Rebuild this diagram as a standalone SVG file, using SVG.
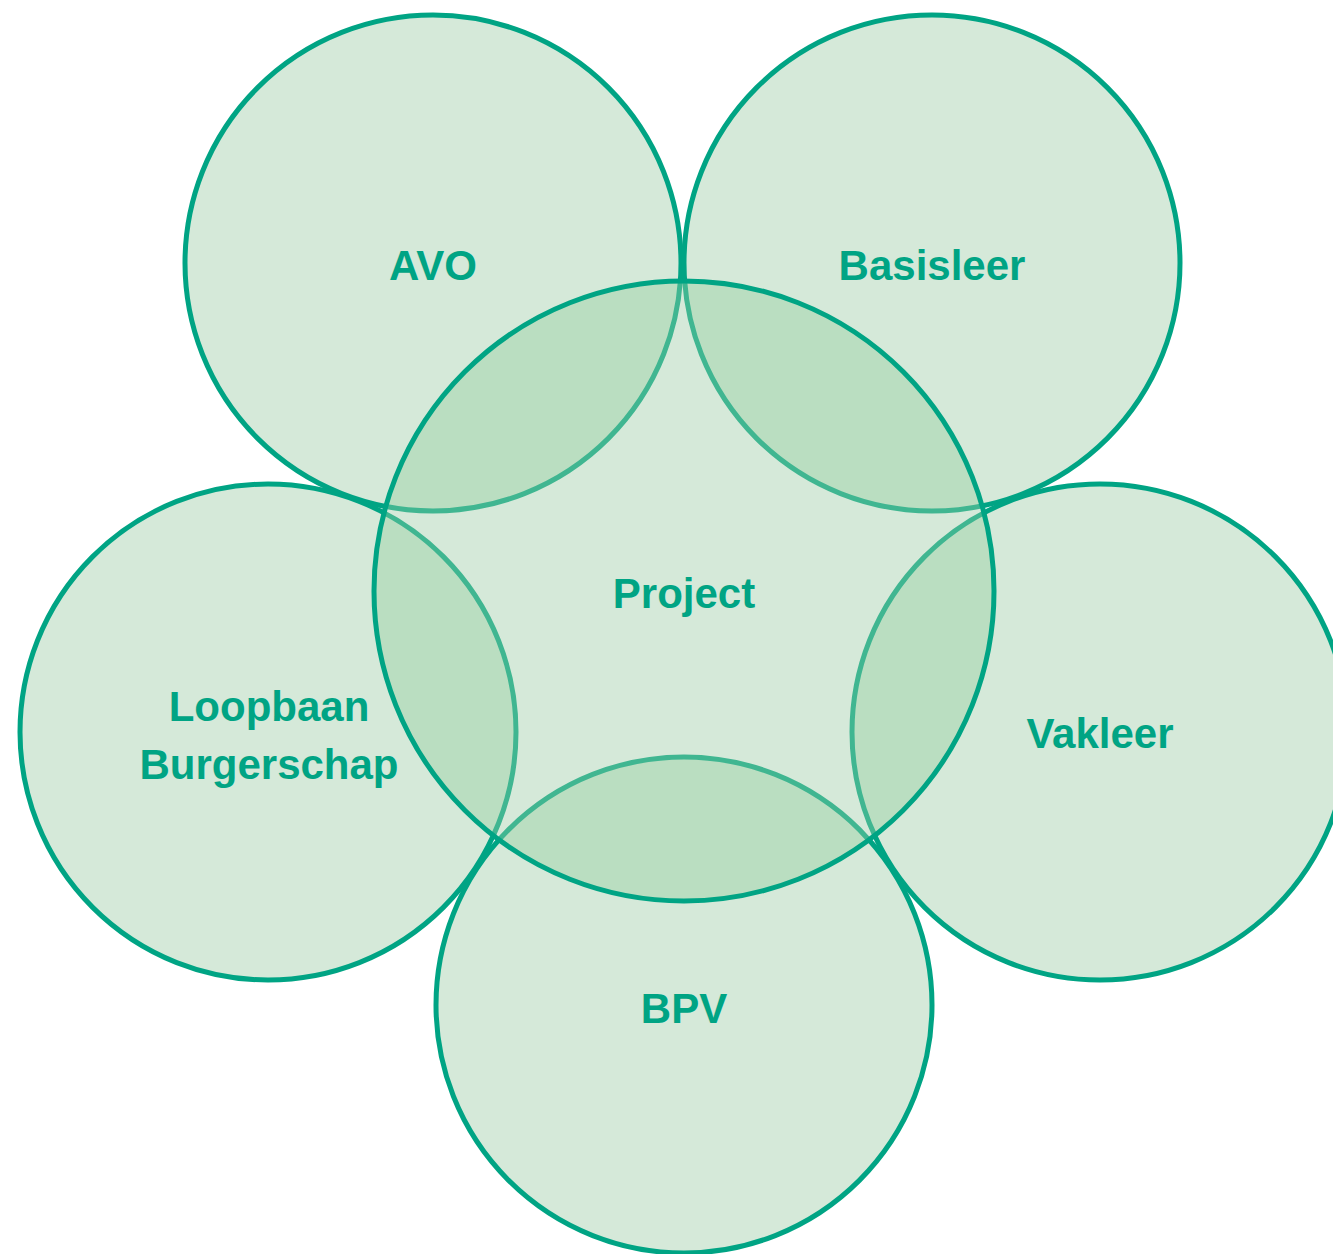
<svg xmlns="http://www.w3.org/2000/svg" width="1333" height="1254" viewBox="0 0 1333 1254">
<style>
.fill{fill:#d5e9d9;stroke:none}
.ring{fill:none;stroke:#00a484;stroke-width:5}
.lens{fill:#badec1;stroke:none}
.inner{fill:none;stroke:#40b691;stroke-width:5}
.lbl{font-family:"Liberation Sans",Arial,sans-serif;font-weight:bold;font-size:42px;fill:#00a484;text-anchor:middle}
</style>
<defs>
<circle id="cAVO" cx="433" cy="263" r="248"/>
<circle id="cBas" cx="932" cy="263" r="248"/>
<circle id="cLoo" cx="268" cy="732" r="248"/>
<circle id="cVak" cx="1100" cy="732" r="248"/>
<circle id="cBPV" cx="684" cy="1005" r="248"/>
<clipPath id="inside"><circle cx="684" cy="591" r="310"/></clipPath>
</defs>
<g id="outer-fills">
<use href="#cAVO" class="fill"/>
<use href="#cBas" class="fill"/>
<use href="#cLoo" class="fill"/>
<use href="#cVak" class="fill"/>
<use href="#cBPV" class="fill"/>
</g>
<g id="outer-rings">
<use href="#cAVO" class="ring"/>
<use href="#cBas" class="ring"/>
<use href="#cLoo" class="ring"/>
<use href="#cVak" class="ring"/>
<use href="#cBPV" class="ring"/>
</g>
<g id="project">
<circle cx="684" cy="591" r="310" class="fill"/>
<g clip-path="url(#inside)">
<use href="#cAVO" class="lens"/>
<use href="#cBas" class="lens"/>
<use href="#cLoo" class="lens"/>
<use href="#cVak" class="lens"/>
<use href="#cBPV" class="lens"/>
<use href="#cAVO" class="inner"/>
<use href="#cBas" class="inner"/>
<use href="#cLoo" class="inner"/>
<use href="#cVak" class="inner"/>
<use href="#cBPV" class="inner"/>
</g>
<circle cx="684" cy="591" r="310" class="ring"/>
</g>
<g id="labels">
<g id="avo"><text class="lbl" x="433" y="280">AVO</text></g>
<g id="basisleer"><text class="lbl" x="932" y="280">Basisleer</text></g>
<g id="project-label"><text class="lbl" x="684" y="608">Project</text></g>
<g id="loopbaan"><text class="lbl" x="269" y="721">Loopbaan</text><text class="lbl" x="269" y="779">Burgerschap</text></g>
<g id="vakleer"><text class="lbl" x="1100" y="748">Vakleer</text></g>
<g id="bpv"><text class="lbl" x="684" y="1023">BPV</text></g>
</g>
</svg>
